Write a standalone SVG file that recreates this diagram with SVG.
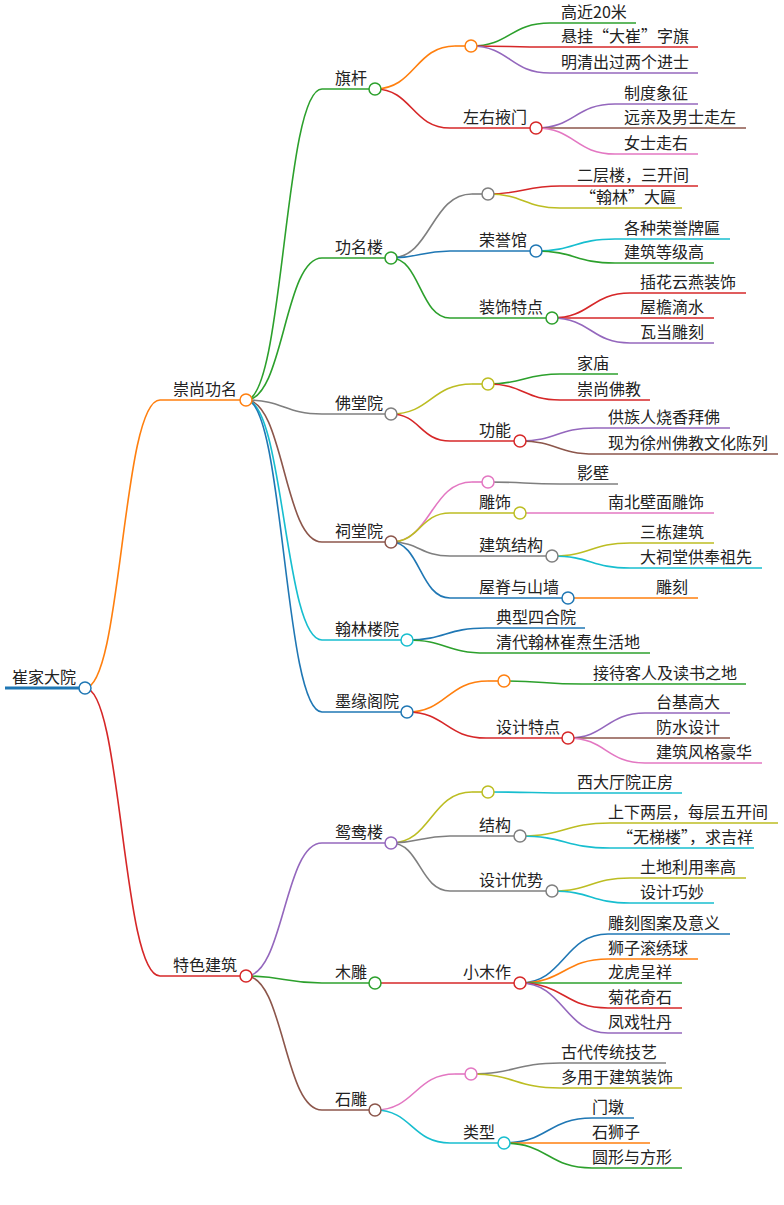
<svg xmlns="http://www.w3.org/2000/svg" width="784" height="1205" viewBox="0 0 784 1205">
<style>
.t{font-family:"Noto Sans CJK SC","Liberation Sans",sans-serif;font-size:16px;fill:#222}
path,line{fill:none;stroke-width:1.6}
circle{fill:#fff;stroke-width:1.5}
.o{stroke:#ff7f0e}.g{stroke:#2ca02c}.r{stroke:#d62728}.p{stroke:#9467bd}.b{stroke:#8c564b}.k{stroke:#e377c2}.y{stroke:#7f7f7f}.v{stroke:#bcbd22}.c{stroke:#17becf}.u{stroke:#1f77b4}
</style>
<rect width="784" height="1205" fill="#fff"/>
<g id="connectors">
<path class="o" d="M85 688C122 688 122 400 160 400"/>
<path class="r" d="M85 688C122 688 122 976 160 976"/>
<path class="g" d="M246 400C284 400 284 89 322 89"/>
<path class="g" d="M246 400C284 400 284 258 322 258"/>
<path class="y" d="M246 400C284 400 284 414 322 414"/>
<path class="b" d="M246 400C284 400 284 542 322 542"/>
<path class="c" d="M246 400C284 400 284 640 322 640"/>
<path class="u" d="M246 400C284 400 284 712 322 712"/>
<path class="o" d="M375 89C415 89 415 46 455 46"/>
<path class="r" d="M375 89C412 89 412 128 450 128"/>
<path class="g" d="M471 46C510 46 510 23 550 23"/>
<path class="r" d="M471 46C510 46 510 47 550 47"/>
<path class="p" d="M471 46C510 46 510 73 550 73"/>
<path class="p" d="M536 128C575 128 575 104 615 104"/>
<path class="b" d="M536 128C575 128 575 128 615 128"/>
<path class="k" d="M536 128C575 128 575 154 615 154"/>
<path class="y" d="M391 258C431 258 431 194 472 194"/>
<path class="u" d="M391 258C420 258 420 251 450 251"/>
<path class="g" d="M391 258C420 258 420 318 450 318"/>
<path class="r" d="M488 194C524 194 524 186 560 186"/>
<path class="v" d="M488 194C524 194 524 208 560 208"/>
<path class="c" d="M536 251C575 251 575 239 615 239"/>
<path class="g" d="M536 251C575 251 575 263 615 263"/>
<path class="r" d="M552 318C591 318 591 293 630 293"/>
<path class="r" d="M552 318C591 318 591 318 630 318"/>
<path class="p" d="M552 318C591 318 591 343 630 343"/>
<path class="v" d="M391 414C431 414 431 384 472 384"/>
<path class="r" d="M391 414C420 414 420 441 450 441"/>
<path class="g" d="M488 384C524 384 524 374 560 374"/>
<path class="r" d="M488 384C524 384 524 400 560 400"/>
<path class="p" d="M520 441C557 441 557 428 595 428"/>
<path class="b" d="M520 441C557 441 557 454 595 454"/>
<path class="k" d="M391 542C431 542 431 482 472 482"/>
<path class="v" d="M391 542C420 542 420 513 450 513"/>
<path class="y" d="M391 542C420 542 420 556 450 556"/>
<path class="u" d="M391 542C420 542 420 598 450 598"/>
<path class="y" d="M488 482C524 482 524 484 560 484"/>
<path class="k" d="M520 513C557 513 557 513 595 513"/>
<path class="v" d="M552 556C591 556 591 543 630 543"/>
<path class="c" d="M552 556C591 556 591 568 630 568"/>
<path class="o" d="M568 598C606 598 606 598 645 598"/>
<path class="u" d="M407 640C446 640 446 628 486 628"/>
<path class="g" d="M407 640C446 640 446 653 486 653"/>
<path class="o" d="M407 712C447 712 447 681 488 681"/>
<path class="r" d="M407 712C446 712 446 738 486 738"/>
<path class="g" d="M504 681C543 681 543 684 582 684"/>
<path class="p" d="M568 738C606 738 606 713 645 713"/>
<path class="b" d="M568 738C606 738 606 738 645 738"/>
<path class="k" d="M568 738C606 738 606 763 645 763"/>
<path class="p" d="M246 976C284 976 284 843 322 843"/>
<path class="g" d="M246 976C284 976 284 983 322 983"/>
<path class="b" d="M246 976C284 976 284 1110 322 1110"/>
<path class="v" d="M391 843C431 843 431 792 472 792"/>
<path class="y" d="M391 843C420 843 420 836 450 836"/>
<path class="y" d="M391 843C420 843 420 891 450 891"/>
<path class="c" d="M488 792C532 792 532 793 577 793"/>
<path class="v" d="M520 836C565 836 565 823 610 823"/>
<path class="c" d="M520 836C565 836 565 848 610 848"/>
<path class="v" d="M552 891C591 891 591 878 630 878"/>
<path class="c" d="M552 891C591 891 591 903 630 903"/>
<path class="r" d="M375 983C412 983 412 983 450 983"/>
<path class="u" d="M520 983C564 983 564 934 608 934"/>
<path class="o" d="M520 983C564 983 564 959 608 959"/>
<path class="g" d="M520 983C564 983 564 983 608 983"/>
<path class="r" d="M520 983C564 983 564 1008 608 1008"/>
<path class="p" d="M520 983C564 983 564 1033 608 1033"/>
<path class="k" d="M375 1110C415 1110 415 1074 455 1074"/>
<path class="c" d="M375 1110C412 1110 412 1143 450 1143"/>
<path class="y" d="M471 1074C515 1074 515 1063 560 1063"/>
<path class="v" d="M471 1074C515 1074 515 1088 560 1088"/>
<path class="u" d="M504 1143C548 1143 548 1118 592 1118"/>
<path class="o" d="M504 1143C548 1143 548 1143 592 1143"/>
<path class="g" d="M504 1143C548 1143 548 1168 592 1168"/>
</g>
<g id="n-root"><line class="u" x1="5" y1="688" x2="85" y2="688" style="stroke-width:3"/><text class="t" x="12" y="683">崔家大院</text><circle class="u" cx="85" cy="688" r="6"/></g>
<g id="n1"><line class="o" x1="160" y1="400" x2="246" y2="400"/><text class="t" x="173" y="395">崇尚功名</text><circle class="o" cx="246" cy="400" r="6"/></g>
<g id="n2"><line class="r" x1="160" y1="976" x2="246" y2="976"/><text class="t" x="173" y="971">特色建筑</text><circle class="r" cx="246" cy="976" r="6"/></g>
<g id="n1-1"><line class="g" x1="322" y1="89" x2="375" y2="89"/><text class="t" x="335" y="84">旗杆</text><circle class="g" cx="375" cy="89" r="6"/></g>
<g id="n1-1-1"><line class="o" x1="455" y1="46" x2="471" y2="46"/><circle class="o" cx="471" cy="46" r="6"/></g>
<g id="l1"><line class="g" x1="550" y1="23" x2="636" y2="23"/><text class="t" x="561" y="18">高近20米</text></g>
<g id="l2"><line class="r" x1="550" y1="47" x2="698" y2="47"/><text class="t" x="561" y="42">悬挂“大崔”字旗</text></g>
<g id="l3"><line class="p" x1="550" y1="73" x2="698" y2="73"/><text class="t" x="561" y="68">明清出过两个进士</text></g>
<g id="n1-1-2"><line class="r" x1="450" y1="128" x2="536" y2="128"/><text class="t" x="463" y="123">左右掖门</text><circle class="r" cx="536" cy="128" r="6"/></g>
<g id="l4"><line class="p" x1="615" y1="104" x2="698" y2="104"/><text class="t" x="624" y="99">制度象征</text></g>
<g id="l5"><line class="b" x1="615" y1="128" x2="746" y2="128"/><text class="t" x="624" y="123">远亲及男士走左</text></g>
<g id="l6"><line class="k" x1="615" y1="154" x2="698" y2="154"/><text class="t" x="624" y="149">女士走右</text></g>
<g id="n1-2"><line class="g" x1="322" y1="258" x2="391" y2="258"/><text class="t" x="335" y="253">功名楼</text><circle class="g" cx="391" cy="258" r="6"/></g>
<g id="n1-2-1"><line class="y" x1="472" y1="194" x2="488" y2="194"/><circle class="y" cx="488" cy="194" r="6"/></g>
<g id="l7"><line class="r" x1="560" y1="186" x2="698" y2="186"/><text class="t" x="577" y="181">二层楼，三开间</text></g>
<g id="l8"><line class="v" x1="560" y1="208" x2="682" y2="208"/><text class="t" x="580" y="203">“翰林”大匾</text></g>
<g id="n1-2-2"><line class="u" x1="450" y1="251" x2="536" y2="251"/><text class="t" x="479" y="246">荣誉馆</text><circle class="u" cx="536" cy="251" r="6"/></g>
<g id="l9"><line class="c" x1="615" y1="239" x2="730" y2="239"/><text class="t" x="624" y="234">各种荣誉牌匾</text></g>
<g id="l10"><line class="g" x1="615" y1="263" x2="714" y2="263"/><text class="t" x="624" y="258">建筑等级高</text></g>
<g id="n1-2-3"><line class="g" x1="450" y1="318" x2="552" y2="318"/><text class="t" x="479" y="313">装饰特点</text><circle class="g" cx="552" cy="318" r="6"/></g>
<g id="l11"><line class="r" x1="630" y1="293" x2="746" y2="293"/><text class="t" x="640" y="288">插花云燕装饰</text></g>
<g id="l12"><line class="r" x1="630" y1="318" x2="714" y2="318"/><text class="t" x="640" y="313">屋檐滴水</text></g>
<g id="l13"><line class="p" x1="630" y1="343" x2="714" y2="343"/><text class="t" x="640" y="338">瓦当雕刻</text></g>
<g id="n1-3"><line class="y" x1="322" y1="414" x2="391" y2="414"/><text class="t" x="335" y="409">佛堂院</text><circle class="y" cx="391" cy="414" r="6"/></g>
<g id="n1-3-1"><line class="v" x1="472" y1="384" x2="488" y2="384"/><circle class="v" cx="488" cy="384" r="6"/></g>
<g id="l14"><line class="g" x1="560" y1="374" x2="618" y2="374"/><text class="t" x="577" y="369">家庙</text></g>
<g id="l15"><line class="r" x1="560" y1="400" x2="650" y2="400"/><text class="t" x="577" y="395">崇尚佛教</text></g>
<g id="n1-3-2"><line class="r" x1="450" y1="441" x2="520" y2="441"/><text class="t" x="479" y="436">功能</text><circle class="r" cx="520" cy="441" r="6"/></g>
<g id="l16"><line class="p" x1="595" y1="428" x2="730" y2="428"/><text class="t" x="608" y="423">供族人烧香拜佛</text></g>
<g id="l17"><line class="b" x1="595" y1="454" x2="778" y2="454"/><text class="t" x="608" y="449">现为徐州佛教文化陈列</text></g>
<g id="n1-4"><line class="b" x1="322" y1="542" x2="391" y2="542"/><text class="t" x="335" y="537">祠堂院</text><circle class="b" cx="391" cy="542" r="6"/></g>
<g id="n1-4-1"><line class="k" x1="472" y1="482" x2="488" y2="482"/><circle class="k" cx="488" cy="482" r="6"/></g>
<g id="l18"><line class="y" x1="560" y1="484" x2="618" y2="484"/><text class="t" x="577" y="479">影壁</text></g>
<g id="n1-4-2"><line class="v" x1="450" y1="513" x2="520" y2="513"/><text class="t" x="479" y="508">雕饰</text><circle class="v" cx="520" cy="513" r="6"/></g>
<g id="l19"><line class="k" x1="595" y1="513" x2="714" y2="513"/><text class="t" x="608" y="508">南北壁面雕饰</text></g>
<g id="n1-4-3"><line class="y" x1="450" y1="556" x2="552" y2="556"/><text class="t" x="479" y="551">建筑结构</text><circle class="y" cx="552" cy="556" r="6"/></g>
<g id="l20"><line class="v" x1="630" y1="543" x2="714" y2="543"/><text class="t" x="640" y="538">三栋建筑</text></g>
<g id="l21"><line class="c" x1="630" y1="568" x2="762" y2="568"/><text class="t" x="640" y="563">大祠堂供奉祖先</text></g>
<g id="n1-4-4"><line class="u" x1="450" y1="598" x2="568" y2="598"/><text class="t" x="479" y="593">屋脊与山墙</text><circle class="u" cx="568" cy="598" r="6"/></g>
<g id="l22"><line class="o" x1="645" y1="598" x2="698" y2="598"/><text class="t" x="656" y="593">雕刻</text></g>
<g id="n1-5"><line class="c" x1="322" y1="640" x2="407" y2="640"/><text class="t" x="335" y="635">翰林楼院</text><circle class="c" cx="407" cy="640" r="6"/></g>
<g id="l23"><line class="u" x1="486" y1="628" x2="585" y2="628"/><text class="t" x="496" y="623">典型四合院</text></g>
<g id="l24"><line class="g" x1="486" y1="653" x2="650" y2="653"/><text class="t" x="496" y="648">清代翰林崔焘生活地</text></g>
<g id="n1-6"><line class="u" x1="322" y1="712" x2="407" y2="712"/><text class="t" x="335" y="707">墨缘阁院</text><circle class="u" cx="407" cy="712" r="6"/></g>
<g id="n1-6-1"><line class="o" x1="488" y1="681" x2="504" y2="681"/><circle class="o" cx="504" cy="681" r="6"/></g>
<g id="l25"><line class="g" x1="582" y1="684" x2="746" y2="684"/><text class="t" x="593" y="679">接待客人及读书之地</text></g>
<g id="n1-6-2"><line class="r" x1="486" y1="738" x2="568" y2="738"/><text class="t" x="496" y="733">设计特点</text><circle class="r" cx="568" cy="738" r="6"/></g>
<g id="l26"><line class="p" x1="645" y1="713" x2="730" y2="713"/><text class="t" x="656" y="708">台基高大</text></g>
<g id="l27"><line class="b" x1="645" y1="738" x2="730" y2="738"/><text class="t" x="656" y="733">防水设计</text></g>
<g id="l28"><line class="k" x1="645" y1="763" x2="762" y2="763"/><text class="t" x="656" y="758">建筑风格豪华</text></g>
<g id="n2-1"><line class="p" x1="322" y1="843" x2="391" y2="843"/><text class="t" x="335" y="838">鸳鸯楼</text><circle class="p" cx="391" cy="843" r="6"/></g>
<g id="n2-1-1"><line class="v" x1="472" y1="792" x2="488" y2="792"/><circle class="v" cx="488" cy="792" r="6"/></g>
<g id="l29"><line class="c" x1="577" y1="793" x2="682" y2="793"/><text class="t" x="577" y="788">西大厅院正房</text></g>
<g id="n2-1-2"><line class="y" x1="450" y1="836" x2="520" y2="836"/><text class="t" x="479" y="831">结构</text><circle class="y" cx="520" cy="836" r="6"/></g>
<g id="l30"><line class="v" x1="610" y1="823" x2="778" y2="823"/><text class="t" x="608" y="818">上下两层，每层五开间</text></g>
<g id="l31"><line class="c" x1="610" y1="848" x2="754" y2="848"/><text class="t" x="617" y="843">“无梯楼”，求吉祥</text></g>
<g id="n2-1-3"><line class="y" x1="450" y1="891" x2="552" y2="891"/><text class="t" x="479" y="886">设计优势</text><circle class="y" cx="552" cy="891" r="6"/></g>
<g id="l32"><line class="v" x1="630" y1="878" x2="746" y2="878"/><text class="t" x="640" y="873">土地利用率高</text></g>
<g id="l33"><line class="c" x1="630" y1="903" x2="714" y2="903"/><text class="t" x="640" y="898">设计巧妙</text></g>
<g id="n2-2"><line class="g" x1="322" y1="983" x2="375" y2="983"/><text class="t" x="335" y="978">木雕</text><circle class="g" cx="375" cy="983" r="6"/></g>
<g id="n2-2-1"><line class="r" x1="450" y1="983" x2="520" y2="983"/><text class="t" x="463" y="978">小木作</text><circle class="r" cx="520" cy="983" r="6"/></g>
<g id="l34"><line class="u" x1="608" y1="934" x2="730" y2="934"/><text class="t" x="608" y="929">雕刻图案及意义</text></g>
<g id="l35"><line class="o" x1="608" y1="959" x2="698" y2="959"/><text class="t" x="608" y="954">狮子滚绣球</text></g>
<g id="l36"><line class="g" x1="608" y1="983" x2="682" y2="983"/><text class="t" x="608" y="978">龙虎呈祥</text></g>
<g id="l37"><line class="r" x1="608" y1="1008" x2="682" y2="1008"/><text class="t" x="608" y="1003">菊花奇石</text></g>
<g id="l38"><line class="p" x1="608" y1="1033" x2="682" y2="1033"/><text class="t" x="608" y="1028">凤戏牡丹</text></g>
<g id="n2-3"><line class="b" x1="322" y1="1110" x2="375" y2="1110"/><text class="t" x="335" y="1105">石雕</text><circle class="b" cx="375" cy="1110" r="6"/></g>
<g id="n2-3-1"><line class="k" x1="455" y1="1074" x2="471" y2="1074"/><circle class="k" cx="471" cy="1074" r="6"/></g>
<g id="l39"><line class="y" x1="560" y1="1063" x2="666" y2="1063"/><text class="t" x="561" y="1058">古代传统技艺</text></g>
<g id="l40"><line class="v" x1="560" y1="1088" x2="682" y2="1088"/><text class="t" x="561" y="1083">多用于建筑装饰</text></g>
<g id="n2-3-2"><line class="c" x1="450" y1="1143" x2="504" y2="1143"/><text class="t" x="463" y="1138">类型</text><circle class="c" cx="504" cy="1143" r="6"/></g>
<g id="l41"><line class="u" x1="592" y1="1118" x2="634" y2="1118"/><text class="t" x="592" y="1113">门墩</text></g>
<g id="l42"><line class="o" x1="592" y1="1143" x2="650" y2="1143"/><text class="t" x="592" y="1138">石狮子</text></g>
<g id="l43"><line class="g" x1="592" y1="1168" x2="682" y2="1168"/><text class="t" x="592" y="1163">圆形与方形</text></g>
</svg>
